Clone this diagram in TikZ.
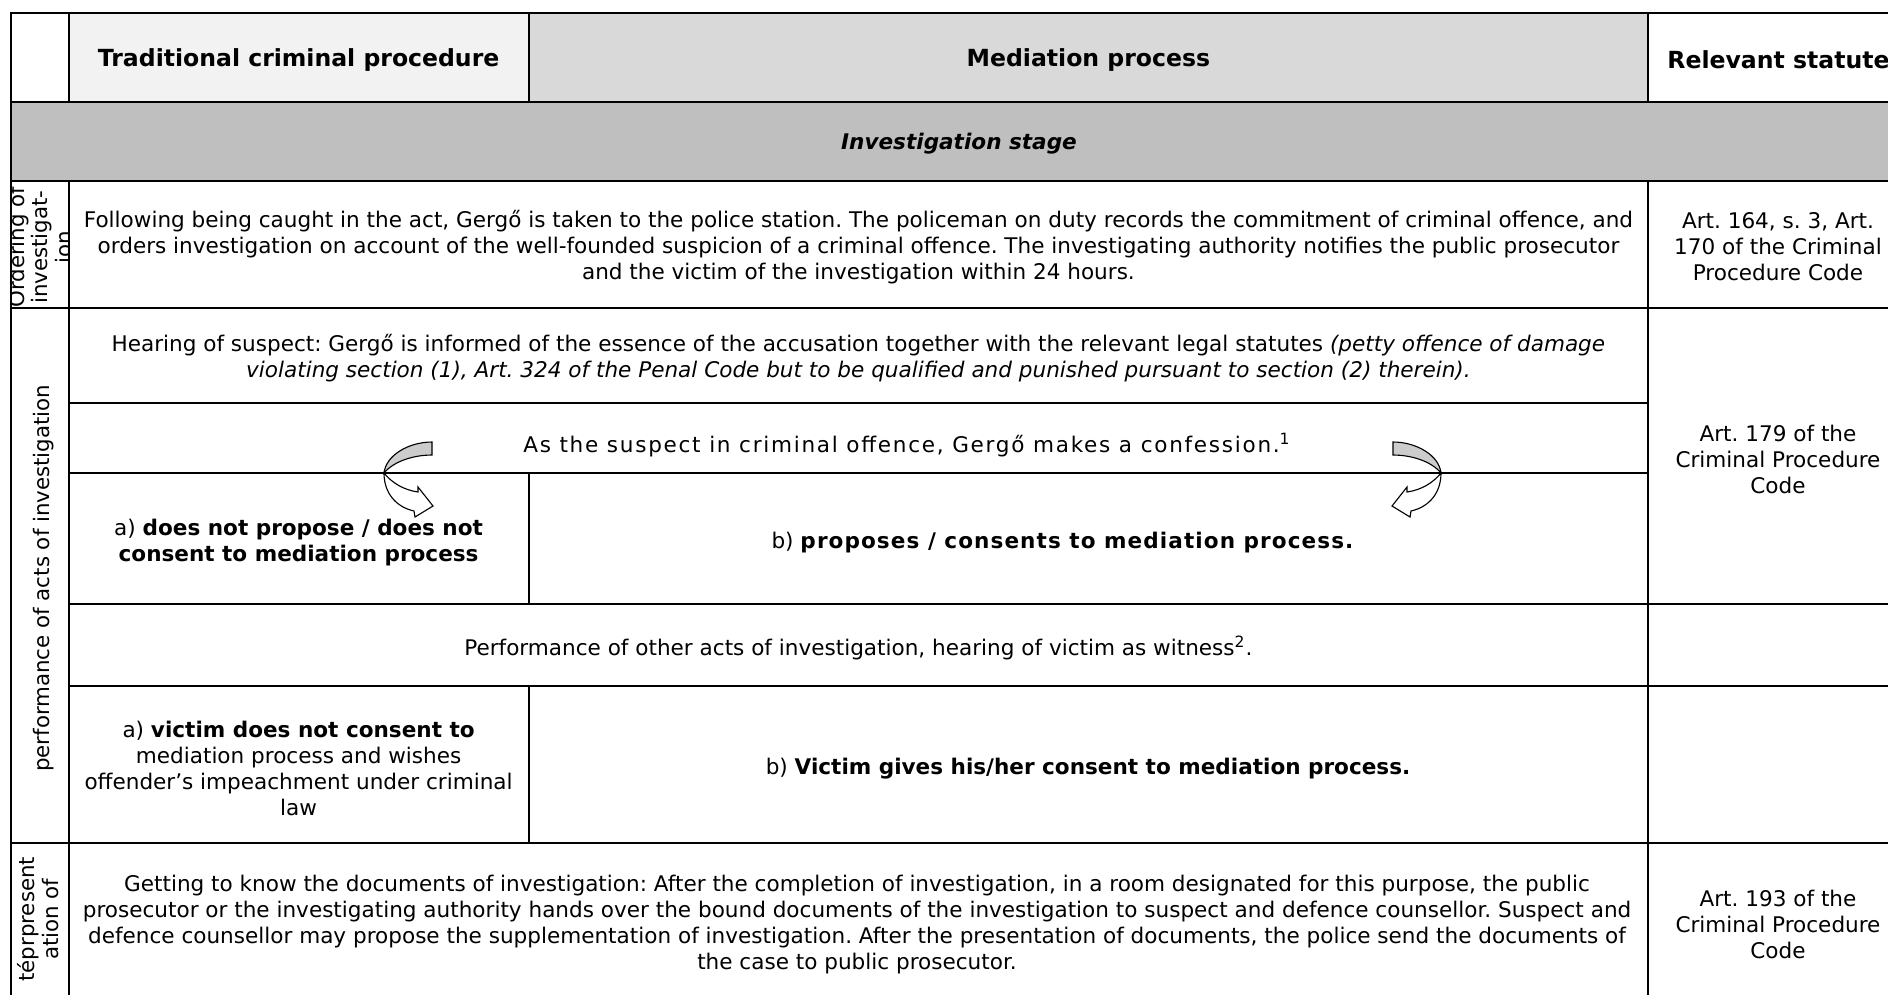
\documentclass[tikz,border=0pt]{standalone}
\usepackage{fontspec}
\setmainfont{DejaVu Sans}
\usepackage{xcolor}
\usepackage{tikz}
\usetikzlibrary{positioning}
\definecolor{hdrLight}{HTML}{F2F2F2}
\definecolor{hdrMid}{HTML}{D9D9D9}
\definecolor{stageGray}{HTML}{BFBFBF}
\definecolor{turnGray}{HTML}{CCCCCC}
\newcommand{\bodysize}{\fontsize{9.7}{11.7}\selectfont\frenchspacing}
\newcommand{\hdrsize}{\fontsize{10.6}{12.5}\selectfont}
\newcommand{\sidesize}{\fontsize{9.6}{10.5}\selectfont}

\begin{document}
\begin{tikzpicture}[x=0.45pt, y=-0.45pt, font=\bodysize,
  grid/.style={line width=0.9pt, line cap=rect},
  cell/.style={align=center, inner sep=0pt, yshift=-1pt},
  wide/.style={cell, font=\bodysize\addfontfeatures{LetterSpace=#1}},
  hdr/.style={cell, font=\hdrsize\bfseries},
  side/.style={cell, rotate=90, font=\sidesize},
  turnarrow/.pic={
    \filldraw[fill=turnGray, line width=0.5pt] (0,0) .. controls (2,-18) and (25,-31) .. (48,-31) -- (48,-18) .. controls (30,-18) and (10,-12) .. (0,0) -- cycle;
    \filldraw[fill=white, line width=0.5pt] (0,0) .. controls (8,10) and (20,17) .. (34,19) -- (34,14) -- (49,33) -- (31,44) -- (30,38) .. controls (12,34) and (0,20) .. (0,0) -- cycle;
  }]
\clip (0,0) rectangle (1888,994);
% shaded cells
\fill[hdrLight] (68.6,13.2) rectangle (528.6,102.3);
\fill[hdrMid] (528.6,13.2) rectangle (1648.3,102.3);
\fill[stageGray] (10.8,102.3) rectangle (1910,180.6);

% header row
\node[hdr] (trad) at (298.6,57.8) {Traditional criminal procedure};
\node[hdr] (med) at (1088.4,57.8) {Mediation process};
\node[hdr, anchor=west] (stat) at (1667,57.8) {Relevant statute};
\node[cell, font=\bodysize\bfseries\itshape] (stage) at (959,141.5) {Investigation stage};

% side labels, cut by their cells
\begin{scope}
  \clip (10.8,180.6) rectangle (68.6,308.2);
  \node[side] (ordering) at (40,245) {Ordering of\\investigat-\\ion};
\end{scope}
\node[side] (acts) at (44,576) {performance of acts of investigation};
\begin{scope}
  \clip (10.8,842.8) rectangle (68.6,1001);
  \node[side] (present) at (38,917) {téprpresent\\ation of};
\end{scope}

% body cells
\node[cell] (order) at (858.4,244.5) {Following being caught in the act, Gergő is taken to the police station. The policeman on duty records the commitment of criminal offence, and\\orders investigation on account of the well-founded suspicion of a criminal offence. The investigating authority notifies the public prosecutor\\and the victim of the investigation within 24 hours.};
\node[cell] (art164) at (1778,244.5) {Art. 164, s. 3, Art.\\170 of the Criminal\\Procedure Code};
\node[cell] (hearing) at (858.4,356) {Hearing of suspect: Gergő is informed of the essence of the accusation together with the relevant legal statutes \textit{(petty offence of damage}\\\textit{violating section (1), Art. 324 of the Penal Code but to be qualified and punished pursuant to section (2) therein).}};
\node[wide=8] (confess) at (907,443) {As the suspect in criminal offence, Gergő makes a confession.\textsuperscript{\scriptsize 1}};
\node[cell] (art179) at (1778,457) {Art. 179 of the\\Criminal Procedure\\Code};
\node[cell] (noprop) at (298.6,540) {a) \textbf{does not propose / does not}\\\textbf{consent to mediation process}};
\node[cell] (prop) at (1063,540) {b) {\addfontfeatures{LetterSpace=5}\textbf{proposes / consents to mediation process.}}};
\node[cell] (other) at (858.4,646) {Performance of other acts of investigation, hearing of victim as witness\textsuperscript{\scriptsize 2}.};
\node[cell] (novict) at (298.6,766) {a) \textbf{victim does not consent to}\\mediation process and wishes\\offender’s impeachment under criminal\\law};
\node[cell] (vict) at (1088,766) {b) \textbf{Victim gives his/her consent to mediation process.}};
\node[cell] (docs) at (857,922) {Getting to know the documents of investigation: After the completion of investigation, in a room designated for this purpose, the public\\prosecutor or the investigating authority hands over the bound documents of the investigation to suspect and defence counsellor. Suspect and\\defence counsellor may propose the supplementation of investigation. After the presentation of documents, the police send the documents of\\the case to public prosecutor.};
\node[cell] (art193) at (1778,922) {Art. 193 of the\\Criminal Procedure\\Code};

% rules
\foreach \y in {13.2,102.3,180.6,308.2,842.8} \draw[grid] (10.8,\y) -- (1910,\y);
\foreach \y in {403.3,473.2} \draw[grid] (68.6,\y) -- (1648.3,\y);
\foreach \y in {604.4,686.3} \draw[grid] (68.6,\y) -- (1910,\y);
\draw[grid] (10.8,13.2) -- (10.8,1001);
\foreach \x in {68.6,1648.3} {
  \draw[grid] (\x,13.2) -- (\x,102.3);
  \draw[grid] (\x,180.6) -- (\x,1001);
}
\draw[grid] (528.6,13.2) -- (528.6,102.3);
\draw[grid] (528.6,473.2) -- (528.6,604.4);
\draw[grid] (528.6,686.3) -- (528.6,842.8);

% turning arrows
\pic at (384,473) {turnarrow};
\pic[xscale=-1] at (1441,473) {turnarrow};
\end{tikzpicture}
\end{document}
